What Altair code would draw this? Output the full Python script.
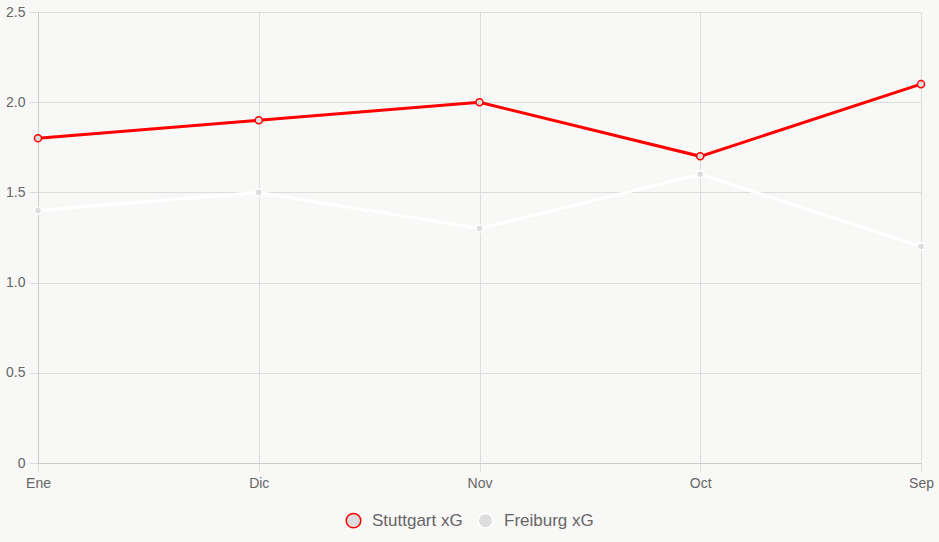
import altair as alt
import pandas as pd

months = ["Ene", "Dic", "Nov", "Oct", "Sep"]
stuttgart = [1.8, 1.9, 2.0, 1.7, 2.1]
freiburg = [1.4, 1.5, 1.3, 1.6, 1.2]
series = ["Stuttgart xG", "Freiburg xG"]

rows = []
for s, vals in zip(series, [stuttgart, freiburg]):
    for i, (m, v) in enumerate(zip(months, vals)):
        rows.append({"month": m, "value": v, "series": s, "order": 1 if s == series[0] else 0})
df = pd.DataFrame(rows)

x = alt.X("month:N", sort=months, scale=alt.Scale(type="point", padding=0),
          axis=alt.Axis(title=None, labelAngle=0, labelFontSize=14, labelColor="#666",
                        labelFont="Liberation Sans", tickSize=9, tickColor="#ddd",
                        domainColor="#ccc", grid=True, gridColor="#ddd", labelPadding=4))
y = alt.Y("value:Q", scale=alt.Scale(domain=[0, 2.5], nice=False),
          axis=alt.Axis(title=None, values=[0, 0.5, 1.0, 1.5, 2.0, 2.5],
                        labelExpr="datum.value == 0 ? '0' : format(datum.value, '.1f')",
                        labelFontSize=14, labelColor="#666", labelFont="Liberation Sans",
                        tickSize=9, tickColor="#ddd", domainColor="#ccc",
                        gridColor="#ddd", labelPadding=4))

stroke = alt.Stroke("series:N", scale=alt.Scale(domain=series, range=["#ff0000", "#ffffff"]),
                    legend=alt.Legend(title=None, orient="none", direction="horizontal",
                                      legendX=307, legendY=500, symbolType="circle",
                                      symbolSize=210, symbolStrokeWidth=1.5,
                                      labelFontSize=17, labelColor="#666",
                                      labelFont="Liberation Sans", columnPadding=12,
                                      symbolOffset=0, labelOffset=10))
fill = alt.Fill("series:N", scale=alt.Scale(domain=series, range=["#dddddd", "#dddddd"]),
                legend=None)

lines = alt.Chart(df).mark_line(strokeWidth=3).encode(
    x=x, y=y, stroke=stroke, detail="series:N",
    order=alt.Order("order:Q"))
points = alt.Chart(df).mark_point(filled=False, size=50, strokeWidth=1.5, opacity=1, fillOpacity=1).encode(
    x=x, y=y, stroke=stroke, fill=fill)

chart = alt.layer(lines, points).properties(
    width=883, height=451,
    autosize=alt.AutoSizeParams(type="none"),
    padding={"left": 38, "top": 12, "right": 18, "bottom": 79},
    background="#f8f8f6",
).configure_view(stroke=None).configure_axis(gridWidth=1)

chart.save("out.html", embed_options={"renderer": "svg", "actions": False})
